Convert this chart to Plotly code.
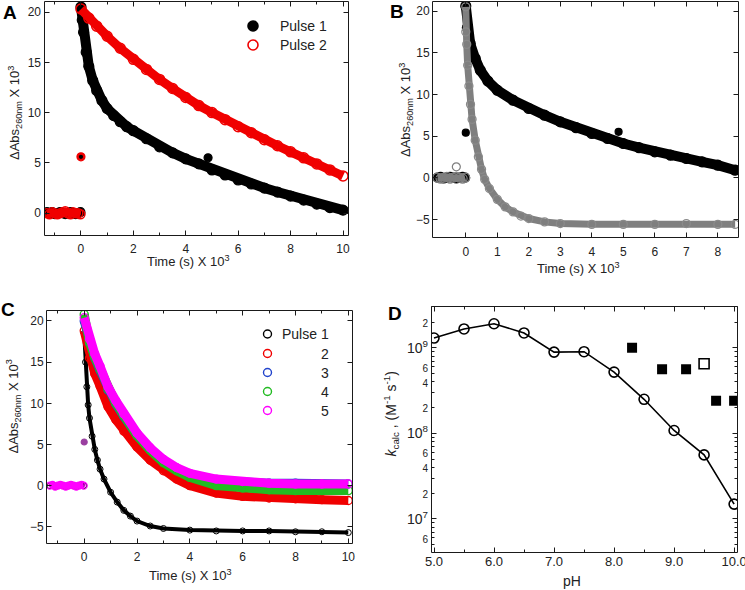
import math
import plotly.graph_objects as go

FONT = "Liberation Sans, Arial, sans-serif"
INK = "#222222"

# ---------------- Panel A ----------------
A_pre_t = [-1.3, -1.2, -1.1, -1.0, -0.9, -0.8, -0.7, -0.6, -0.5, -0.4, -0.3, -0.2, -0.1, -0.02]
A_pre_p1 = [0.1, 0.0, 0.1, -0.1, 0.0, 0.1, 0.0, -0.1, 0.0, 0.1, 0.0, -0.1, 0.0, 0.1]
A_pre_p2 = [0.0, -0.1, 0.1, 0.0, -0.1, 0.0, 0.1, 0.2, 0.0, -0.1, 0.1, 0.0, 0.0, -0.1]
A_p1_t = [0.0, 0.05, 0.1, 0.2, 0.3, 0.45, 0.6, 0.8, 1.0, 1.25, 1.5, 1.75, 2.0, 2.5, 3.0, 3.5,
          4.0, 4.5, 5.0, 5.5, 6.0, 6.5, 7.0, 7.5, 8.0, 8.5, 9.0, 9.5, 10.0]
A_p1 = [20.5, 19.2, 18.0, 16.0, 14.6, 13.2, 12.2, 11.2, 10.4, 9.7, 9.1, 8.6, 8.2, 7.4, 6.6, 6.0,
        5.4, 4.9, 4.3, 3.8, 3.3, 2.9, 2.5, 2.1, 1.7, 1.3, 0.9, 0.55, 0.3]
A_p2_t = [0.0, 0.3, 0.6, 1.0, 1.5, 2.0, 2.5, 3.0, 3.5, 4.0, 4.5, 5.0, 5.5, 6.0, 6.5, 7.0, 7.5,
          8.0, 8.5, 9.0, 9.5, 10.0]
A_p2 = [20.3, 19.4, 18.6, 17.6, 16.4, 15.3, 14.3, 13.3, 12.4, 11.5, 10.7, 10.0, 9.3, 8.6, 8.0,
        7.3, 6.7, 6.1, 5.5, 4.9, 4.3, 3.7]
A_spike_t = [0.0]
A_spike = [5.6]
A_out_t = [4.85]
A_out = [5.5]

# ---------------- Panel B ----------------
B_pre_t = [-0.9, -0.8, -0.7, -0.6, -0.5, -0.4, -0.3, -0.2, -0.1, -0.02]
B_pre_black = [0.0, 0.1, -0.1, 0.0, 0.1, 0.0, -0.1, 0.0, 0.1, 0.0]
B_pre_gray = [0.0, -0.1, 0.0, 0.1, -0.1, 0.0, 0.1, 0.0, -0.1, 0.0]
B_black_t = [0.0, 0.05, 0.14, 0.3, 0.46, 0.7, 1.0, 1.5, 2.0, 2.5, 3.0, 3.5, 4.0, 4.5, 5.0, 5.5,
             6.0, 6.5, 7.0, 7.5, 8.0, 8.55]
B_black = [20.6, 18.0, 16.1, 14.3, 12.9, 11.6, 10.5, 9.3, 8.3, 7.5, 6.7, 6.0, 5.3, 4.7, 4.1, 3.6,
           3.1, 2.7, 2.3, 1.9, 1.5, 0.9]
B_gray_t = [0.0, 0.0, 0.03, 0.06, 0.1, 0.15, 0.2, 0.3, 0.4, 0.5, 0.6, 0.75, 1.0, 1.25, 1.5, 1.75,
            2.0, 2.5, 3.0, 4.0, 5.0, 6.0, 7.0, 8.0, 8.55]
B_gray = [20.5, 17.5, 16.0, 13.5, 11.0, 8.8, 7.0, 4.5, 2.5, 1.0, -0.2, -1.3, -2.6, -3.5, -4.1,
          -4.6, -4.9, -5.3, -5.5, -5.6, -5.6, -5.6, -5.5, -5.6, -5.6]
B_spike_t = [0.0]
B_spike = [5.4]
B_out_t = [4.85]
B_out = [5.5]

# ---------------- Panel C ----------------
C_pre_t = [-1.3, -1.2, -1.1, -1.0, -0.9, -0.8, -0.7, -0.6, -0.5, -0.4, -0.3, -0.2, -0.1, -0.02]
C_pre = [0.0, 0.1, -0.1, 0.0, 0.1, 0.0, -0.1, 0.0, 0.1, 0.0, -0.1, 0.0, 0.1, 0.0]
C_p1_t = [0.0, 0.05, 0.1, 0.15, 0.2, 0.3, 0.4, 0.5, 0.6, 0.75, 1.0, 1.25, 1.5, 1.75, 2.0, 2.5,
          3.0, 4.0, 5.0, 6.0, 7.0, 8.0, 9.0, 10.0]
C_p1 = [18.5, 15.0, 12.0, 9.8, 8.2, 6.0, 4.4, 3.1, 2.0, 0.8, -0.8, -2.0, -3.0, -3.7, -4.3, -4.9,
        -5.2, -5.4, -5.5, -5.5, -5.5, -5.6, -5.6, -5.7]
C_p2_t = [0.0, 0.2, 0.4, 0.6, 0.9, 1.2, 1.5, 2.0, 2.5, 3.0, 3.5, 4.0, 5.0, 6.0, 7.0, 8.0, 9.0, 10.0]
C_p2 = [18.8, 15.5, 13.6, 12.1, 9.6, 8.0, 6.6, 4.7, 3.1, 1.8, 0.8, 0.0, -0.9, -1.3, -1.5, -1.6,
        -1.7, -1.8]
C_p3_t = [0.0, 0.2, 0.4, 0.6, 0.9, 1.2, 1.5, 2.0, 2.5, 3.0, 3.5, 4.0, 5.0, 6.0, 7.0, 8.0, 9.0, 10.0]
C_p3 = [20.0, 17.3, 15.5, 14.0, 11.6, 9.9, 8.4, 6.1, 4.4, 3.0, 2.0, 1.3, 0.6, 0.4, 0.3, 0.3,
        0.2, 0.2]
C_p4 = [20.8, 17.4, 15.6, 14.1, 11.7, 10.0, 8.5, 6.1, 4.3, 2.8, 1.8, 1.0, 0.0, -0.3, -0.5, -0.6,
        -0.6, -0.6]
C_p5 = [20.4, 17.8, 16.0, 14.5, 12.0, 10.3, 8.7, 6.4, 4.6, 3.2, 2.2, 1.5, 0.8, 0.5, 0.3, 0.2,
        0.2, 0.2]
C_spike_t = [0.0]
C_spike = [5.3]

# ---------------- Panel D ----------------
D_ph = [5.0, 5.5, 6.0, 6.5, 7.0, 7.5, 8.0, 8.5, 9.0, 9.5, 10.0]
D_k = [1.30e9, 1.66e9, 1.91e9, 1.49e9, 8.9e8, 9.0e8, 5.2e8, 2.5e8, 1.08e8, 5.6e7, 1.49e7]
D_sq_ph = [8.3, 8.8, 9.2, 9.7, 10.0]
D_sq_k = [1.0e9, 5.6e8, 5.6e8, 2.4e8, 2.4e8]
D_open_sq_ph = [9.5]
D_open_sq_k = [6.5e8]
D_label_vals = [6e6, 1e7, 2e7, 4e7, 6e7, 1e8, 2e8, 4e8, 6e8, 1e9, 2e9]
D_label_text = ["6", "10<sup>7</sup>", "2", "4", "6", "10<sup>8</sup>", "2", "4", "6",
                "10<sup>9</sup>", "2"]
D_minor_vals = [5e6, 7e6, 8e6, 9e6, 3e7, 5e7, 7e7, 8e7, 9e7, 3e8, 5e8, 7e8, 8e8, 9e8, 3e9]

RED = "#f00000"
GRAY = "#7f7f7f"
BLUE = "#2244cc"
GREEN = "#22bb22"
MAG = "#ff00ff"

W, H = 745, 590

A_box = (44, 348, 1, 235)          # left, right, top, bottom (pixels)
B_box = (432.7, 738, 1, 237.7)
C_box = (46.7, 352, 310, 543.3)
D_box = (431, 737.7, 306.7, 552.3)
A_xr, A_yr = [-1.41, 10.19], [-2.17, 21.1]
B_xr, B_yr = [-1.05, 8.64], [-7.2, 21.2]
C_xr, C_yr = [-1.42, 10.14], [-7.0, 21.33]
D_xr, D_yr = [4.95, 10.06], [6.61, 9.48]

fig = go.Figure()


def band(x, y, color, ax, size, filled, lw, mlw=1.2, mcolor=None):
    mc = mcolor or color
    fig.add_trace(go.Scatter(
        x=x, y=y, mode="lines+markers", xaxis=ax[0], yaxis=ax[1], showlegend=False,
        line=dict(color=color, width=lw),
        marker=dict(size=size, symbol="circle" if filled else "circle-open",
                    color=mc, line=dict(color=mc, width=mlw))))


def dots(x, y, color, ax, size, filled, mlw=1.2):
    fig.add_trace(go.Scatter(
        x=x, y=y, mode="markers", xaxis=ax[0], yaxis=ax[1], showlegend=False,
        marker=dict(size=size, symbol="circle" if filled else "circle-open",
                    color=color, line=dict(color=color, width=mlw))))


AX = ("x", "y")
band(A_pre_t, A_pre_p1, "black", AX, 9, True, 8)
band(A_pre_t, A_pre_p2, RED, AX, 9, False, 7, 1.5)
band(A_p1_t, A_p1, "black", AX, 10, True, 10)
band(A_p2_t, A_p2, RED, AX, 10, False, 9, 1.5)
dots(A_spike_t, A_spike, RED, AX, 8, True)
dots(A_spike_t, A_spike, "black", AX, 3, True)
dots(A_out_t, A_out, "black", AX, 8, True)

BX = ("x2", "y2")
band(B_pre_t, B_pre_black, "black", BX, 9, True, 8)
band(B_pre_t, B_pre_gray, GRAY, BX, 9, False, 7, 1.3)
band(B_black_t, B_black, "black", BX, 10, True, 10)
band(B_gray_t, B_gray, GRAY, BX, 8, False, 7, 1.3, "#8a8a8a")
dots(B_spike_t, B_spike, "black", BX, 7, True)
dots(B_out_t, B_out, "black", BX, 7, True)
dots([-0.3], [1.3], GRAY, BX, 8, False)

CX = ("x3", "y3")
band(C_pre_t, C_pre, "black", CX, 6, False, 5, 1.0)
band(C_pre_t, C_pre, MAG, CX, 7, False, 6, 1.3)
band(C_p1_t, C_p1, "black", CX, 6, False, 4, 1.0)
band(C_p2_t, C_p2, RED, CX, 8, False, 9, 1.3)
band(C_p3_t, C_p3, BLUE, CX, 8, False, 9, 1.3)
band(C_p3_t, C_p4, GREEN, CX, 8, False, 9, 1.3)
band(C_p3_t, C_p5, MAG, CX, 8, False, 9, 1.3)
dots(C_spike_t, C_spike, "#9a3fa0", CX, 6, True)

fig.add_trace(go.Scatter(x=D_ph, y=D_k, mode="lines+markers", xaxis="x4", yaxis="y4",
                         showlegend=False,
                         line=dict(color="black", width=1.6),
                         marker=dict(size=10, symbol="circle-open", color="black",
                                     line=dict(color="black", width=1.6))))
fig.add_trace(go.Scatter(x=D_sq_ph, y=D_sq_k, mode="markers", xaxis="x4", yaxis="y4",
                         showlegend=False,
                         marker=dict(size=10, symbol="square", color="black")))
fig.add_trace(go.Scatter(x=D_open_sq_ph, y=D_open_sq_k, mode="markers", xaxis="x4", yaxis="y4",
                         showlegend=False,
                         marker=dict(size=10, symbol="square-open", color="black",
                                     line=dict(color="black", width=1.6))))


def px_to_data(box, xr, yr, px, py):
    l, r, t, b = box
    x = xr[0] + (px - l) / (r - l) * (xr[1] - xr[0])
    y = yr[0] + (b - py) / (b - t) * (yr[1] - yr[0])
    return x, y


leg_A = [("Pulse 1", "black", True, 26), ("Pulse 2", RED, False, 45)]
for name, col, filled, yy in leg_A:
    mx, my = px_to_data(A_box, A_xr, A_yr, 253, yy)
    tx, _ = px_to_data(A_box, A_xr, A_yr, 278, yy)
    fig.add_trace(go.Scatter(x=[mx], y=[my], xaxis="x", yaxis="y", mode="markers",
                             showlegend=False,
                             marker=dict(size=10, symbol="circle" if filled else "circle-open",
                                         color=col, line=dict(color=col, width=1.6))))
    fig.add_annotation(text=name, x=tx, y=my, xref="x", yref="y",
                       showarrow=False, xanchor="left", yanchor="middle",
                       font=dict(family=FONT, size=14, color=INK))

leg_C = [("Pulse 1", "black", 334), ("2", RED, 353.5), ("3", BLUE, 372.5), ("4", GREEN, 391.5),
         ("5", MAG, 410.5)]
for name, col, yy in leg_C:
    mx, my = px_to_data(C_box, C_xr, C_yr, 267.5, yy)
    tx, _ = px_to_data(C_box, C_xr, C_yr, 330.5, yy)
    fig.add_trace(go.Scatter(x=[mx], y=[my], xaxis="x3", yaxis="y3",
                             mode="markers", showlegend=False,
                             marker=dict(size=8, symbol="circle-open", color=col,
                                         line=dict(color=col, width=1.4))))
    fig.add_annotation(text=name, x=tx, y=my, xref="x3", yref="y3",
                       showarrow=False, xanchor="right", yanchor="middle",
                       font=dict(family=FONT, size=14, color=INK))


# ---------- frames and inward ticks, drawn on a transparent full-page pixel overlay ----------
def snap(p):
    return math.floor(p) + 0.5


def frame_and_ticks(box, xr, yr, xmaj, xmin, ymaj, ymin, ylog=False):
    l, r, t, b = box
    xs, ys = [], []

    def seg(x0, y0, x1, y1):
        xs.extend([x0, x1, None])
        ys.extend([y0, y1, None])

    L, R, T, B = snap(l), snap(r), snap(t), snap(b)
    xs.extend([L, R, R, L, L, None])
    ys.extend([T, T, B, B, T, None])

    def xp(v):
        return snap(l + (v - xr[0]) / (xr[1] - xr[0]) * (r - l))

    def yp(v):
        vv = math.log10(v) if ylog else v
        return snap(b - (vv - yr[0]) / (yr[1] - yr[0]) * (b - t))

    for vals, ln in ((xmaj, 5), (xmin, 3)):
        for v in vals:
            p = xp(v)
            seg(p, B, p, B - ln)
            seg(p, T, p, T + ln)
    for vals, ln in ((ymaj, 5), (ymin, 3)):
        for v in vals:
            p = yp(v)
            seg(L, p, L + ln, p)
            seg(R, p, R - ln, p)
    fig.add_trace(go.Scatter(x=xs, y=ys, mode="lines", xaxis="x5", yaxis="y5",
                             showlegend=False, hoverinfo="skip",
                             line=dict(color="#1a1a1a", width=1)))


frame_and_ticks(A_box, A_xr, A_yr, [0, 2, 4, 6, 8, 10], [-1, 1, 3, 5, 7, 9],
                [0, 5, 10, 15, 20], [])
frame_and_ticks(B_box, B_xr, B_yr, [0, 1, 2, 3, 4, 5, 6, 7, 8], [],
                [-5, 0, 5, 10, 15, 20], [])
frame_and_ticks(C_box, C_xr, C_yr, [0, 2, 4, 6, 8, 10], [-1, 1, 3, 5, 7, 9],
                [-5, 0, 5, 10, 15, 20], [])
frame_and_ticks(D_box, D_xr, D_yr, [5, 6, 7, 8, 9, 10], [5.5, 6.5, 7.5, 8.5, 9.5],
                [1e7, 1e8, 1e9], D_label_vals[:1] + D_label_vals[2:5] + D_label_vals[6:9]
                + D_label_vals[10:] + D_minor_vals, ylog=True)


def dom_x(box):
    return [box[0] / W, box[1] / W]


def dom_y(box):
    return [1 - box[3] / H, 1 - box[2] / H]


def axis(**kw):
    d = dict(showline=False, ticks="", automargin=False, showgrid=False, zeroline=False,
             ticklabeloverflow="allow", tickfont=dict(family=FONT, size=12, color=INK))
    d.update(kw)
    return d


small = "<span style='font-size:10px'>{}</span>"
D_tick_text = [t if "sup" in t else small.format(t) for t in D_label_text]

fig.update_layout(
    template="none",
    width=W, height=H, margin=dict(l=0, r=0, t=0, b=0, autoexpand=False),
    paper_bgcolor="white", plot_bgcolor="rgba(0,0,0,0)", showlegend=False,
    font=dict(family=FONT, color=INK),
    xaxis=axis(domain=dom_x(A_box), range=A_xr, anchor="y", tickmode="array",
               tickvals=[0, 2, 4, 6, 8, 10], ticklabelstandoff=5),
    yaxis=axis(domain=dom_y(A_box), range=A_yr, anchor="x", tickmode="array",
               tickvals=[0, 5, 10, 15, 20], ticklabelstandoff=2),
    xaxis2=axis(domain=dom_x(B_box), range=B_xr, anchor="y2", tickmode="array",
                tickvals=[0, 1, 2, 3, 4, 5, 6, 7, 8], ticklabelstandoff=5),
    yaxis2=axis(domain=dom_y(B_box), range=B_yr, anchor="x2", tickmode="array",
                tickvals=[-5, 0, 5, 10, 15, 20], ticklabelstandoff=2),
    xaxis3=axis(domain=dom_x(C_box), range=C_xr, anchor="y3", tickmode="array",
                tickvals=[0, 2, 4, 6, 8, 10], ticklabelstandoff=5),
    yaxis3=axis(domain=dom_y(C_box), range=C_yr, anchor="x3", tickmode="array",
                tickvals=[-5, 0, 5, 10, 15, 20], ticklabelstandoff=2),
    xaxis4=axis(domain=dom_x(D_box), range=D_xr, anchor="y4", tickmode="array",
                tickvals=[5, 6, 7, 8, 9, 10],
                ticktext=["5.0", "6.0", "7.0", "8.0", "9.0", "10.0"],
                tickfont=dict(family=FONT, size=13, color=INK)),
    yaxis4=axis(domain=dom_y(D_box), type="log", range=D_yr, anchor="x4",
                tickmode="array", tickvals=D_label_vals, ticktext=D_tick_text,
                tickfont=dict(family=FONT, size=14, color=INK), ticklabelstandoff=2),
    xaxis5=dict(domain=[0, 1], range=[0, W], visible=False, anchor="y5", fixedrange=True),
    yaxis5=dict(domain=[0, 1], range=[H, 0], visible=False, anchor="x5", fixedrange=True),
)

# axis titles (placed where the reference shows them)
YT = "ΔAbs<sub>260nm</sub> X 10<sup>3</sup>"
XT = "Time (s) X 10<sup>3</sup>"
titles = [
    (XT, 188.5, 261, 0, 13), (XT, 578, 268, 0, 13), (XT, 190, 575, 0, 13),
    ("pH", 572, 581, 0, 14),
    (YT, 15, 113, -90, 13), (YT, 406, 110, -90, 13), (YT, 13, 406.5, -90, 13),
    ("<i>k</i><sub>calc</sub> , (M<sup>-1</sup> s<sup>-1</sup>)", 391, 414.5, -90, 14),
]
for txt, x, y, ang, fs in titles:
    fig.add_annotation(text=txt, x=x / W, y=1 - y / H, xref="paper", yref="paper",
                       showarrow=False, textangle=ang, xanchor="center", yanchor="middle",
                       font=dict(family=FONT, size=fs, color=INK))

for txt, x, y in [("A", 10, 12), ("B", 397, 11), ("C", 8, 309), ("D", 395, 313)]:
    fig.add_annotation(text=f"<b>{txt}</b>", x=x / W, y=1 - y / H, xref="paper", yref="paper",
                       showarrow=False, font=dict(family=FONT, size=19, color="black"),
                       xanchor="center", yanchor="middle")

fig.write_html("out.html", config={"displayModeBar": False},
               post_script="document.body.style.margin='0px';")
